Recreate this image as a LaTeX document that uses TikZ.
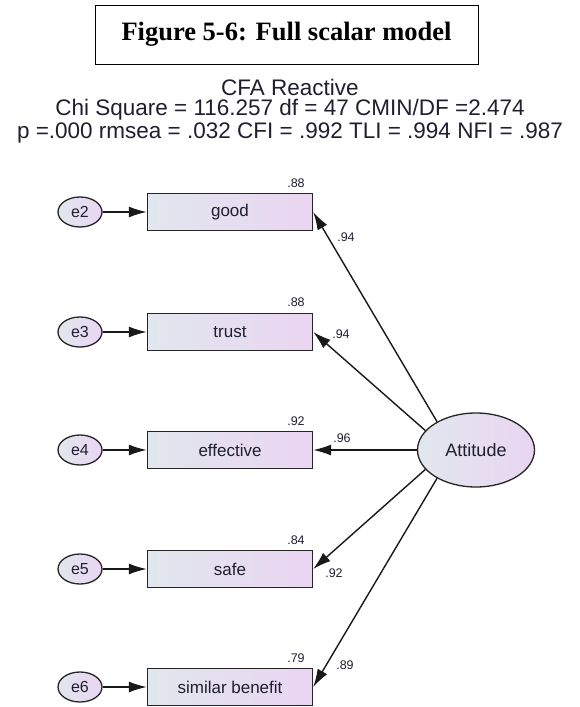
\documentclass[tikz,border=0pt]{standalone}
\usepackage{fontspec}
\setmainfont{Liberation Serif}
\setsansfont{Liberation Sans}
\usetikzlibrary{arrows.meta,shapes.geometric}
\definecolor{fillL}{HTML}{E1E7EE}
\definecolor{fillR}{HTML}{EAD5F2}
\definecolor{labtext}{HTML}{1F1F2F}
\tikzset{
  obsbox/.style={draw=black!85, line width=1.4pt, minimum width=165pt, minimum height=37pt,
    left color=fillL, right color=fillR, inner sep=0pt, font=\sffamily\fontsize{17}{17}\selectfont, text=labtext},
  errnode/.style={ellipse, draw=black!85, line width=1.3pt, minimum width=44pt, minimum height=30pt,
    left color=fillL, right color=fillR, inner sep=0pt, font=\sffamily\fontsize{16}{16}\selectfont, text=labtext},
  latnode/.style={ellipse, draw=black!85, line width=1.3pt, minimum width=117pt, minimum height=74pt,
    left color=fillL, right color=fillR, inner sep=0pt, font=\sffamily\fontsize{18}{18}\selectfont, text=labtext},
  path/.style={-{Latex[length=18pt,width=11pt]}, line width=1.4pt, black!90},
  smalllab/.style={font=\sffamily\fontsize{12.5}{12.5}\selectfont, text=labtext},
  fitline/.style={font=\sffamily\fontsize{22.5}{22.5}\selectfont, text=labtext},
}
\begin{document}
\begin{tikzpicture}[x=1pt,y=-1pt]
\useasboundingbox (0,0) rectangle (579,707);
% heading box
\node[draw, line width=1pt, minimum width=383pt, minimum height=59pt, inner sep=0pt,
  font=\bfseries\fontsize{26.5}{26.5}\selectfont] (fig) at (286.5,34.5) {Figure 5-6: Full scalar model};
% fit summary
\node[fitline] (t1) at (290,87) {CFA Reactive};
\node[fitline] (t2) at (290,110) {Chi Square = 116.257 df = 47 CMIN/DF =2.474};
\node[fitline] (t3) at (290,133) {p =.000 rmsea = .032 CFI = .992 TLI = .994 NFI = .987};
% latent factor
\node[latnode] (att) at (476,450) {Attitude};
% indicators, errors and their paths
\foreach \nm/\lab/\yy/\err in {good/good/212/e2, trust/trust/332/e3, eff/effective/450/e4, safe/safe/569/e5, sim/similar benefit/687/e6}{
  \node[obsbox] (\nm) at (230,\yy) {\lab};
  \node[errnode] (\err) at (80,\yy) {\err};
  \draw[path] (\err) -- (\nm);
}
% factor loadings
\draw[path] (att.144) -- (good.east);
\draw[path] (att.159) -- (trust.east);
\draw[path] (att.west) -- (eff.east);
\draw[path] (att.201) -- (safe.east);
\draw[path] (att.216) -- (sim.east);
% squared multiple correlations
\node[smalllab] (r1) at (296,183) {.88};
\node[smalllab] (r2) at (296,302) {.88};
\node[smalllab] (r3) at (296,421) {.92};
\node[smalllab] (r4) at (296,540) {.84};
\node[smalllab] (r5) at (296,658) {.79};
% standardized loadings
\node[smalllab] (l1) at (346,237) {.94};
\node[smalllab] (l2) at (341,334) {.94};
\node[smalllab] (l3) at (342,438) {.96};
\node[smalllab] (l4) at (334,573) {.92};
\node[smalllab] (l5) at (345,665) {.89};
\end{tikzpicture}
\end{document}
